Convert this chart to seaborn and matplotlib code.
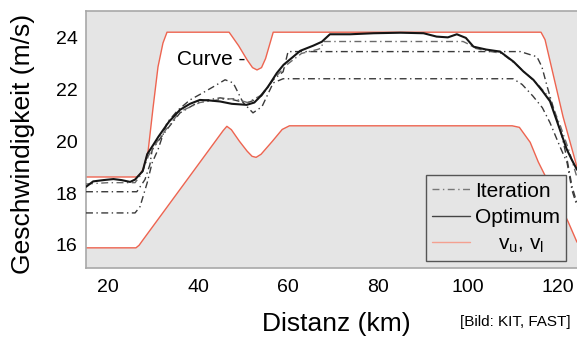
import numpy as np
import pandas as pd
import matplotlib
matplotlib.use("Agg")
import matplotlib.pyplot as plt
import seaborn as sns

# ---------------- data (km, m/s) ----------------
km_vu = [15.1, 26.4, 27.1, 27.8, 28.9, 30.0, 31.1, 32.2, 33.1, 46.9, 49.0, 50.9, 52.1,
         53.1, 54.1, 55.0, 56.0, 56.7, 116.2, 117.1, 121.1, 124.2]
vu = [18.62, 18.62, 18.72, 18.93, 19.62, 21.3, 22.88, 23.8, 24.22, 24.22, 23.7, 23.15, 22.85,
      22.76, 22.85, 23.2, 23.8, 24.22, 24.22, 23.93, 20.95, 19.0]

km_vl = [15.1, 26.2, 26.9, 27.6, 45.6, 46.4, 47.4, 49.2, 50.9, 52.0, 52.9, 54.0, 56.5,
         58.7, 60.3, 109.8, 111.4, 113.8, 115.6, 122.2, 124.2]
vl = [15.88, 15.88, 15.98, 16.15, 20.42, 20.58, 20.45, 20.0, 19.62, 19.42, 19.38, 19.5, 20.0,
      20.46, 20.6, 20.6, 20.54, 19.96, 19.2, 16.9, 16.1]

km_opt = [15.1, 16.7, 19.0, 21.2, 23.0, 24.9, 26.0, 27.7, 28.7, 30.0, 31.2, 33.5, 36.0, 38.2,
          40.4, 42.5, 44.9, 47.5, 50.8, 52.5, 53.8, 55.5, 57.5, 59.0, 61.0, 62.7, 65.6, 67.5,
          69.3, 73.8, 79.0, 85.0, 90.1, 93.0, 95.5, 97.5, 99.5, 101.2, 104.0, 107.1, 110.1,
          112.3, 114.5, 116.5, 118.2, 120.4, 121.9, 123.0, 124.2]
opt = [18.24, 18.45, 18.50, 18.54, 18.50, 18.43, 18.52, 18.85, 19.5, 19.85, 20.18, 20.75, 21.22,
       21.45, 21.6, 21.58, 21.54, 21.45, 21.41, 21.5, 21.73, 22.1, 22.64, 22.96, 23.25, 23.5,
       23.7, 23.85, 24.14, 24.14, 24.18, 24.2, 24.18, 24.05, 24.02, 24.14, 24.0, 23.66, 23.55,
       23.47, 23.08, 22.7, 22.38, 21.95, 21.55, 20.45, 19.7, 19.3, 18.9]

km_it1 = [15.1, 26.0, 27.1, 28.7, 29.8, 31.1, 33.1, 35.5, 38.2, 40.8, 43.3, 46.0, 47.8, 50.0,
          52.2, 54.2, 56.7, 58.9, 110.0, 112.0, 114.4, 116.5, 118.2, 120.4, 122.0, 123.1, 124.2]
it1 = [17.23, 17.23, 17.47, 18.4, 19.17, 19.68, 20.72, 21.2, 21.6, 21.85, 22.1, 22.38, 22.26, 21.5,
       21.1, 21.34, 22.26, 22.42, 22.42, 22.2, 21.75, 21.3, 20.72, 19.8, 19.17, 18.1, 17.5]

km_it2 = [15.1, 26.4, 28.2, 29.3, 29.8, 31.1, 33.5, 36.0, 40.4, 44.9, 47.5, 50.8, 53.8, 56.7,
          58.9, 60.0, 111.6, 115.3, 116.4, 117.6, 118.9, 120.9, 122.0, 123.1, 124.2]
it2 = [18.05, 18.05, 18.52, 19.1, 19.67, 20.0, 20.55, 21.1, 21.55, 21.68, 21.62, 21.48, 21.68, 22.38,
       22.69, 23.47, 23.47, 23.27, 22.88, 22.1, 21.33, 20.18, 19.29, 18.25, 17.6]

km_it3 = [15.1, 20.0, 26.0, 27.5, 29.0, 31.5, 36.0, 40.4, 45.0, 48.0, 51.0, 54.0, 57.0, 60.0,
          63.0, 66.5, 67.3, 67.9, 98.9, 100.2, 101.5, 104.0, 107.5, 110.5, 113.0, 115.5, 118.0,
          120.5, 122.5, 124.2]
it3 = [18.35, 18.4, 18.4, 18.75, 19.45, 20.15, 21.15, 21.5, 21.62, 21.65, 21.5, 21.78, 22.45, 23.0,
       23.4, 23.55, 23.6, 23.86, 23.86, 23.75, 23.6, 23.5, 23.4, 23.0, 22.6, 22.2, 21.7, 20.6,
       19.6, 18.6]

x_ticks = [20, 40, 60, 80, 100, 120]
y_ticks = [16, 18, 20, 22, 24]

# ---------------- style ----------------
sns.set_style("white", {"axes.facecolor": "#e5e5e5"})
plt.rcParams['font.family'] = ['Liberation Sans', 'DejaVu Sans']
plt.rcParams['mathtext.fontset'] = 'custom'
plt.rcParams['mathtext.rm'] = 'Liberation Sans'
plt.rcParams['text.color'] = 'black'
plt.rcParams['axes.labelcolor'] = 'black'
plt.rcParams['xtick.color'] = 'black'
plt.rcParams['ytick.color'] = 'black'

RED = "#ee6450"
DASHDOT = (0, (5, 2.5, 1, 2.5))

fig = plt.figure(figsize=(5.77, 3.39), dpi=100)
ax = fig.add_axes([86 / 577, 71 / 339, 491 / 577, 257 / 339])

# white corridor between bounds
ax.fill(np.r_[km_vu, km_vl[::-1]], np.r_[vu, vl[::-1]], color="white", lw=0, zorder=1)

common = dict(ax=ax, estimator=None, sort=False)
sns.lineplot(x=km_vu, y=vu, color=RED, lw=1.0, label=r"    v$_\mathregular{u}$, v$_\mathregular{l}$", zorder=2, **common)
sns.lineplot(x=km_vl, y=vl, color=RED, lw=1.0, zorder=2, **common)
sns.lineplot(x=km_it1, y=it1, color="#3a3a3a", lw=1.0, linestyle=DASHDOT, label="Iteration", zorder=3, **common)
sns.lineplot(x=km_it2, y=it2, color="#3a3a3a", lw=1.0, linestyle=DASHDOT, zorder=3, **common)
sns.lineplot(x=km_it3, y=it3, color="#6a6a6a", lw=1.0, linestyle=DASHDOT, zorder=3, **common)
sns.lineplot(x=km_opt, y=opt, color="#151515", lw=1.5, label="Optimum", zorder=4, **common)

ax.text(35.3, 23.15, "Curve -", fontsize=15, ha="left", va="center", color="black", zorder=5)

ax.set_xlim(15.1, 124.2)
ax.set_ylim(15.1, 25.04)
ax.set_xticks(x_ticks)
ax.set_yticks(y_ticks)
ax.tick_params(axis="both", length=0, labelsize=14, labelcolor="black")
ax.tick_params(axis="x", pad=8)
ax.tick_params(axis="y", pad=6)

ax.set_xlabel("Distanz (km)", fontsize=19, va="center", color="black")
ax.set_ylabel("Geschwindigkeit (m/s)", fontsize=19, va="center", color="black")
ax.xaxis.set_label_coords((336 - 86) / 491, (268 - 324) / 257)
ax.yaxis.set_label_coords((23 - 86) / 491, (268 - 143.5) / 257)

for side in ["left", "bottom", "top"]:
    ax.spines[side].set_color("#a8a8a8")
    ax.spines[side].set_linewidth(1.2)
ax.spines["right"].set_visible(False)

handles, labels = ax.get_legend_handles_labels()
order = [labels.index("Iteration"), labels.index("Optimum"), 0]
leg = ax.legend([handles[i] for i in order], [labels[i] for i in order],
                loc="lower right", bbox_to_anchor=((566 - 86) / 491, (268 - 261) / 257),
                borderaxespad=0, fontsize=15, handlelength=1.8, handletextpad=0.25,
                labelspacing=0.35, borderpad=0.3, fancybox=False, framealpha=1,
                edgecolor="#555555")
leg.get_frame().set_linewidth(1.0)
for t in leg.get_texts():
    t.set_color("black")
leg_lines = leg.get_lines()
leg_lines[0].set_color("#777777")
leg_lines[1].set_linewidth(1.0)
leg_lines[1].set_color("#444444")
leg_lines[2].set_color("#f4a090")
leg.set_zorder(10)

fig.text(460 / 577, 1 - 326 / 339, "[Bild: KIT, FAST]", fontsize=11, ha="left", va="baseline", color="black")

fig.savefig("out.png", dpi=100)
